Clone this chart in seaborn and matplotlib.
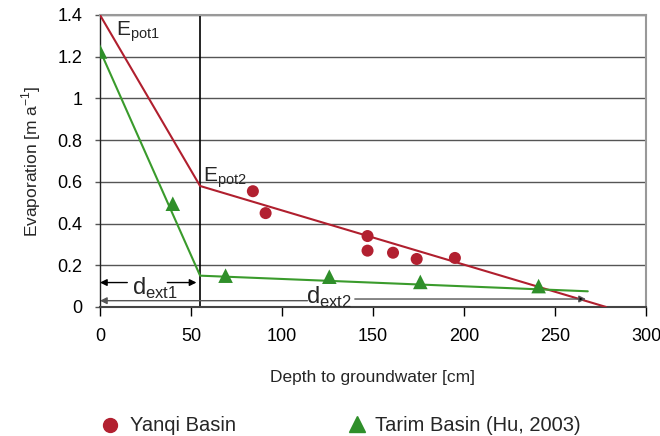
import matplotlib
matplotlib.use("Agg")
import matplotlib.pyplot as plt
from matplotlib.lines import Line2D
import seaborn as sns
import pandas as pd

# Data
yanqi_depth = [84, 91, 147, 147, 161, 174, 195]
yanqi_evap = [0.555, 0.45, 0.34, 0.27, 0.26, 0.23, 0.235]
tarim_depth = [0, 40, 69, 126, 176, 241]
tarim_evap = [1.225, 0.495, 0.15, 0.145, 0.12, 0.10]
red_line_x = [0, 55, 278]
red_line_y = [1.4, 0.58, 0.0]
green_line_x = [0, 55, 268]
green_line_y = [1.23, 0.15, 0.075]
x_ticks = [0, 50, 100, 150, 200, 250, 300]
y_ticks = [0, 0.2, 0.4, 0.6, 0.8, 1.0, 1.2, 1.4]
y_tick_labels = ["0", "0.2", "0.4", "0.6", "0.8", "1", "1.2", "1.4"]

RED = "#B01F2E"
GREEN = "#3A9B2C"
GREEN_M = "#2F8F2A"

sns.set_theme(style="white")
plt.rcParams['font.family'] = ['Liberation Sans', 'DejaVu Sans']

fig = plt.figure(figsize=(6.6, 4.36), dpi=100)
ax = fig.add_axes([0.1515, 0.296, 0.8273, 0.6696])

for yv in y_ticks:
    ax.axhline(yv, color="#555555", lw=1.0, zorder=0)

df_y = pd.DataFrame({"x": yanqi_depth, "y": yanqi_evap})
df_t = pd.DataFrame({"x": tarim_depth, "y": tarim_evap})

sns.lineplot(x=red_line_x, y=red_line_y, ax=ax, color=RED, lw=1.5, zorder=3, sort=False)
sns.lineplot(x=green_line_x, y=green_line_y, ax=ax, color=GREEN, lw=1.5, zorder=3, sort=False)
sns.scatterplot(data=df_y, x="x", y="y", ax=ax, color="#B22030", s=75, marker="o",
                edgecolor="none", zorder=4)
sns.scatterplot(data=df_t, x="x", y="y", ax=ax, color=GREEN_M, s=110, marker="^",
                edgecolor="none", zorder=4)

ax.axvline(55, color="black", lw=1.2, zorder=2)

ax.set_xlim(0, 300)
ax.set_ylim(0, 1.4)
ax.set_xticks(x_ticks)
ax.set_yticks(y_ticks)
ax.set_yticklabels(y_tick_labels)
ax.tick_params(axis="both", labelsize=13, colors="black")
ax.tick_params(axis="x", direction="out", length=6.5, width=1, bottom=True, pad=9, color="black")
ax.tick_params(axis="y", direction="out", length=3.6, width=1, left=True, pad=9, color="#555555")

for s in ["left", "bottom"]:
    ax.spines[s].set_color("#222222")
    ax.spines[s].set_linewidth(1.0)
for s in ["top", "right"]:
    ax.spines[s].set_color("#999999")
    ax.spines[s].set_linewidth(1.5)
ax.spines["bottom"].set_color("#444444")
ax.spines["bottom"].set_linewidth(1.5)

ax.set_xlabel("Depth to groundwater [cm]", fontsize=12.5, labelpad=18)
ax.set_ylabel("Evaporation [m a$^{\\mathregular{-1}}$]", fontsize=12.5, labelpad=10)

# Annotations
ax.text(9, 1.32, "E$_{\\mathregular{pot1}}$", fontsize=15, ha="left", va="center")
ax.text(56.5, 0.62, "E$_{\\mathregular{pot2}}$", fontsize=15, ha="left", va="center")
ax.text(30, 0.088, "d$_{\\mathregular{ext1}}$", fontsize=17, ha="center", va="center")
ax.text(126, 0.048, "d$_{\\mathregular{ext2}}$", fontsize=17, ha="center", va="center")

arrow_kw = dict(arrowstyle="-|>", color="black", lw=1.0, mutation_scale=10, shrinkA=0, shrinkB=0)
ax.annotate("", xy=(0, 0.117), xytext=(15, 0.117), arrowprops=arrow_kw)
ax.annotate("", xy=(53, 0.117), xytext=(37, 0.117), arrowprops=arrow_kw)
grey_kw = dict(arrowstyle="-|>", color="#555555", lw=1.0, mutation_scale=10, shrinkA=0, shrinkB=0)
ax.annotate("", xy=(0, 0.03), xytext=(114, 0.03), arrowprops=grey_kw)
ax.annotate("", xy=(267, 0.038), xytext=(140, 0.038),
            arrowprops=dict(arrowstyle="-|>", lw=1.0, mutation_scale=10,
                            shrinkA=0, shrinkB=0, fc="black", ec="#555555"))

# Legend
fig.add_artist(Line2D([0.167], [0.025], marker="o", markersize=10, color="#B22030",
                      linestyle="none", transform=fig.transFigure))
fig.text(0.197, 0.025, "Yanqi Basin", fontsize=14.5, ha="left", va="center")
fig.add_artist(Line2D([0.541], [0.027], marker="^", markersize=11, color=GREEN_M,
                      linestyle="none", transform=fig.transFigure))
fig.text(0.568, 0.025, "Tarim Basin (Hu, 2003)", fontsize=14.5, ha="left", va="center")

fig.savefig("out.png", dpi=100)
